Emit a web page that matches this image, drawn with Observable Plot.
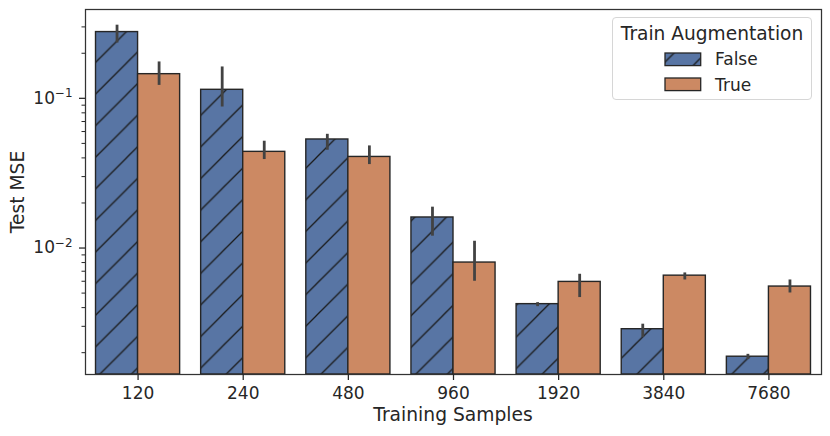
<!DOCTYPE html>
<html><head><meta charset="utf-8">
<script src="https://cdn.jsdelivr.net/npm/d3@7"></script>
<script src="https://cdn.jsdelivr.net/npm/@observablehq/plot@0.6"></script>
<style>
body{margin:0;background:#fff;}
#wrap{position:relative;width:830px;height:436px;font-family:"DejaVu Sans",sans-serif;color:#262626;overflow:hidden;}
#wrap svg{position:absolute;left:0;top:0;}
.lbl{position:absolute;white-space:nowrap;line-height:1;}
</style></head><body><div id="wrap"></div>
<script>
// ---- data ----
const samples   = [120, 240, 480, 960, 1920, 3840, 7680];
const hues      = ["False", "True"];
const mseFalse  = [0.277, 0.114, 0.0531, 0.0160, 0.00422, 0.00287, 0.00188];
const mseTrue   = [0.145, 0.0439, 0.0406, 0.0080, 0.00594, 0.00654, 0.00553];
const ciFalseLo = [0.234, 0.0875, 0.045, 0.0120, 0.00406, 0.00253, 0.00180];
const ciFalseHi = [0.308, 0.162, 0.0575, 0.01875, 0.00432, 0.00310, 0.00195];
const ciTrueLo  = [0.122, 0.039, 0.0361, 0.0060, 0.00467, 0.00612, 0.00501];
const ciTrueHi  = [0.175, 0.0517, 0.0481, 0.0111, 0.00668, 0.00682, 0.00612];
const yMajorTicks = [0.01, 0.1];
const yMajorExp = ["\u22122", "\u22121"];
const yMinorTicks = [0.002,0.003,0.004,0.005,0.006,0.007,0.008,0.009,
                     0.02,0.03,0.04,0.05,0.06,0.07,0.08,0.09,0.2,0.3];
const yDomain = [0.00143, 0.392];

const colorFalse = "#5875a4";
const colorTrue  = "#cc8963";
const HATCH = 31.6;

const rows = [];
samples.forEach((s, i) => {
  rows.push({i, s, aug: "False", mse: mseFalse[i], lo: ciFalseLo[i], hi: ciFalseHi[i]});
  rows.push({i, s, aug: "True",  mse: mseTrue[i],  lo: ciTrueLo[i],  hi: ciTrueHi[i]});
});
const half = 0.2; // each hue takes half of seaborn's 0.8 width
const center = d => d.i + (d.aug === "False" ? -half : half);
const falseRows = rows.filter(d => d.aug === "False");
const trueRows  = rows.filter(d => d.aug === "True");

const svg = Plot.plot({
  width: 830, height: 436,
  marginLeft: 85, marginRight: 9, marginTop: 9, marginBottom: 62,
  style: {fontFamily: "DejaVu Sans, sans-serif", fontSize: "17px", color: "#262626", background: "transparent"},
  x: {type: "linear", domain: [-0.5, samples.length - 0.5]},
  y: {type: "log", domain: yDomain},
  marks: [
    Plot.rect(falseRows, {x1: d => center(d) - half, x2: d => center(d) + half, y1: () => yDomain[0], y2: "mse",
      fill: "url(#hatchFalse)", stroke: "#262626", strokeWidth: 1.4}),
    Plot.rect(trueRows, {x1: d => center(d) - half, x2: d => center(d) + half, y1: () => yDomain[0], y2: "mse",
      fill: colorTrue, stroke: "#262626", strokeWidth: 1.4}),
    Plot.ruleX(rows, {x: center, y1: "lo", y2: "hi", stroke: "#424242", strokeWidth: 2.8}),
    Plot.frame({stroke: "#333", strokeWidth: 1.25}),
    Plot.axisX({ticks: d3.range(samples.length), tickFormat: i => String(samples[i]), tickSize: 6, tickPadding: 6.5,
      label: null, fontSize: 17, strokeWidth: 1.25}),
    Plot.axisY({ticks: yMajorTicks, tickFormat: v => "10\u005E" + yMajorExp[yMajorTicks.indexOf(v)], tickSize: 6, tickPadding: 7,
      label: null, fontSize: 17, strokeWidth: 1.25}),
    Plot.axisY({ticks: yMinorTicks, tickFormat: () => "", tickSize: 3.5, label: null, strokeWidth: 1})
  ]
});

// render "10^e" tick labels as base with a raised, smaller exponent (like mathtext)
svg.querySelectorAll("text").forEach(t => {
  const m = /^10\^(.+)$/.exec(t.textContent);
  if (!m) return;
  t.textContent = "";
  const ns = "http://www.w3.org/2000/svg";
  const b = document.createElementNS(ns, "tspan"); b.textContent = "10";
  const e = document.createElementNS(ns, "tspan"); e.textContent = m[1];
  e.setAttribute("font-size", "0.7em"); e.setAttribute("dy", "-0.55em");
  t.appendChild(b); t.appendChild(e);
});

function patternDef(id, ox, oy) {
  const P = HATCH;
  return `<pattern id="${id}" patternUnits="userSpaceOnUse" x="${-ox}" y="${-oy}" width="${P}" height="${P}">
    <rect width="${P}" height="${P}" fill="${colorFalse}"/>
    <path d="M0,${P} L${P},0 M-2,2 L2,-2 M${P-2},${P+2} L${P+2},${P-2}" stroke="#1a1a1a" stroke-width="1.3" fill="none"/>
  </pattern>`;
}
const defs = document.createElementNS("http://www.w3.org/2000/svg", "defs");
defs.innerHTML = patternDef("hatchFalse", 0, 0);
svg.insertBefore(defs, svg.firstChild);

const wrap = document.getElementById("wrap");
wrap.appendChild(svg);

// axis labels
const xl = document.createElement("div");
xl.className = "lbl"; xl.textContent = "Training Samples";
xl.style.cssText = "left:453px;top:415px;font-size:18.7px;transform:translate(-50%,-50%);";
wrap.appendChild(xl);
const yl = document.createElement("div");
yl.className = "lbl"; yl.textContent = "Test MSE";
yl.style.cssText = "left:18px;top:192px;font-size:18.7px;transform:translate(-50%,-50%) rotate(-90deg);";
wrap.appendChild(yl);

// legend
const lg = document.createElement("div");
lg.style.cssText = "position:absolute;left:611.5px;top:17.3px;width:200px;height:83px;box-sizing:border-box;border:1px solid #d6d6d6;border-radius:4px;background:rgba(255,255,255,0.8);";
wrap.appendChild(lg);
const lt = document.createElement("div");
lt.className = "lbl"; lt.textContent = "Train Augmentation";
lt.style.cssText = "left:712px;top:33.5px;font-size:18.6px;transform:translate(-50%,-50%);";
wrap.appendChild(lt);
const entries = [
  {name: hues[0], top: 52.7, fill: "url(#hatchLegend)"},
  {name: hues[1], top: 78.3, fill: colorTrue}
];
entries.forEach((e, k) => {
  const s = document.createElementNS("http://www.w3.org/2000/svg", "svg");
  s.setAttribute("width", 38); s.setAttribute("height", 15);
  s.style.cssText = `position:absolute;left:664px;top:${e.top - 1}px;`;
  s.innerHTML = (k === 0 ? `<defs>${patternDef("hatchLegend", 664, e.top - 1)}</defs>` : "") +
    `<rect x="1" y="1" width="35.7" height="12.6" fill="${e.fill}" stroke="#262626" stroke-width="1.3"/>`;
  wrap.appendChild(s);
  const t = document.createElement("div");
  t.className = "lbl"; t.textContent = e.name;
  t.style.cssText = `left:715px;top:${e.top + 6.5}px;font-size:17px;transform:translateY(-50%);`;
  wrap.appendChild(t);
});
</script></body></html>
